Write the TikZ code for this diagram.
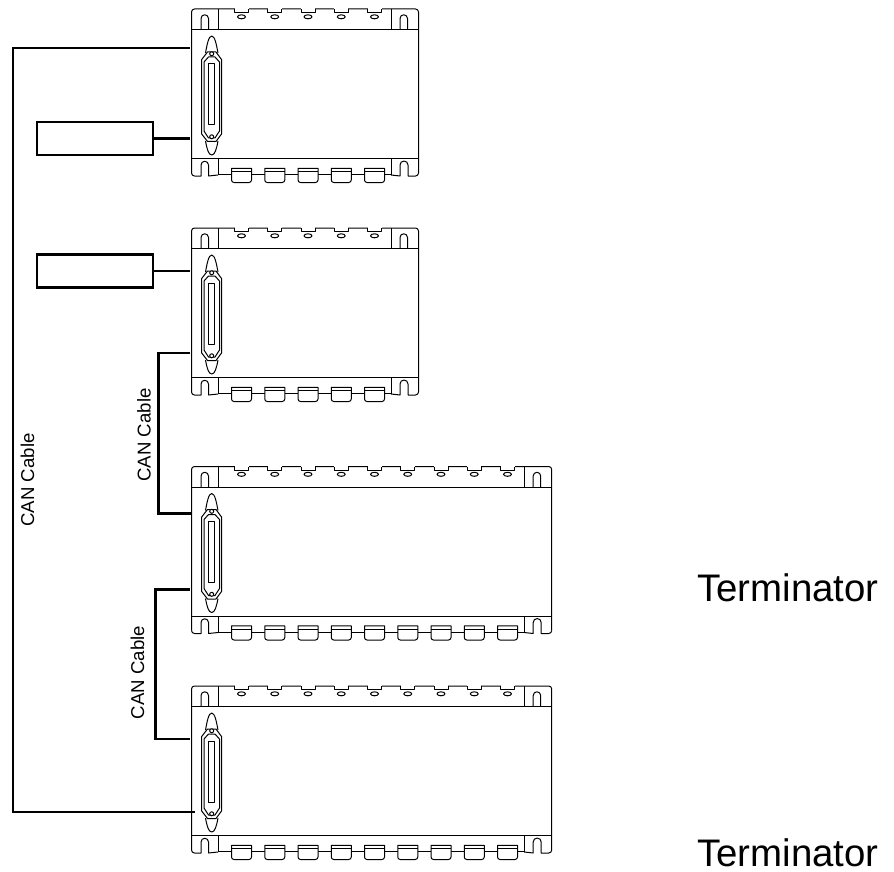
\documentclass[tikz,border=0pt]{standalone}
\usepackage{fontspec}
\setmainfont{Liberation Sans}
\usetikzlibrary{calc}
\tikzset{
  thin line/.style={line width=1pt,line join=round,black},
  cable/.style={line width=2.4pt,line join=miter,black},
  mbox/.style={draw,line width=2.4pt,minimum width=116pt,minimum height=33pt,inner sep=0pt,fill=white},
  canlabel/.style={font=\fontsize{18.6}{19}\selectfont,rotate=90,inner sep=0pt},
  termlabel/.style={font=\fontsize{38.4}{39}\selectfont,inner sep=0pt,anchor=west}
}
% #1 name, #2 top y, #3 number of tabs
\newcommand{\chassis}[3]{%
 \begin{scope}[shift={(191.5,#2)}]
  \pgfmathsetmacro{\W}{227+33.3*(#3-5)+0.0}
  \pgfmathsetmacro{\Il}{26.5}
  \pgfmathsetmacro{\Ir}{\W-27.5}
  % outline
  \draw[thin line] (0,164) -- (0,3) arc[start angle=180,end angle=270,radius=3] -- (\W-3,0) arc[start angle=270,end angle=360,radius=3] -- (\W,164);
  % header, footer
  \draw[thin line] (0,20.5) -- (\W,20.5);
  \draw[thin line] (0,149.5) -- (\W,149.5);
  \draw[thin line] (\Il,0) -- (\Il,20.5);
  \draw[thin line] (\Ir,0) -- (\Ir,20.5);
  \draw[thin line] (\Il,149.5) -- (\Il,166);
  \draw[thin line] (\Ir,149.5) -- (\Ir,166);
  % top slots
  \foreach \sx in {9.5,\W-18.5}{
    \draw[thin line] (\sx,20.5) -- (\sx,9.5) arc[start angle=180,end angle=360,radius=3.75] -- (\sx+7.5,20.5);
  }
  % bottom end parts
  \draw[thin line] (0,164) arc[start angle=180,end angle=90,radius=3] -- (9.5,167) -- (9.5,156) arc[start angle=180,end angle=360,radius=3.75] -- (17,167) -- (\Il,166);
  \draw[thin line] (\W,164) arc[start angle=0,end angle=90,radius=3] -- (\W-10.5,167) -- (\W-10.5,156) arc[start angle=0,end angle=-180,radius=4] -- (\W-18.5,167) -- (\Ir,166);
  % tabs
  \draw[thin line] (\Il,165.5) -- (\Ir,165.5);
  \foreach \i in {1,...,#3}{
    \pgfmathsetmacro{\cx}{50+33.25*(\i-1)}
    \fill[white] (\cx-7,-1) rectangle (\cx+7,3.2);
    \draw[thin line] (\cx-7,0) -- (\cx-7,3.7) -- (\cx+7,3.7) -- (\cx+7,0);
    \draw[thin line] (\cx,7.8) ellipse[x radius=4,y radius=2];
    \draw[thin line,fill=white] (\cx-10,159.3) -- (\cx+10,159.3) -- (\cx+10,171) arc[start angle=0,end angle=90,radius=2.5] -- (\cx-7.5,173.5) arc[start angle=90,end angle=180,radius=2.5] -- cycle;
    \draw[thin line] (\cx-10,162.7) -- (\cx+10,162.7);
  }
  % connector
  \draw[thin line] (14,44) .. controls (15.5,36) and (17,27) .. (20.2,27) .. controls (23.4,27) and (25,36) .. (26.5,44);
  \draw[thin line] (14,132) .. controls (15.5,140) and (17,146) .. (20.2,146) .. controls (23.4,146) and (25,140) .. (26.5,132);
  \draw[thin line,fill=white] (16,43) -- (24.5,43) -- (30,50.5) -- (30,125) -- (24.5,132.5) -- (16,132.5) -- (10.2,125) -- (10.2,50.5) -- cycle;
  \draw[thin line] (17,48) -- (23.5,48) -- (28,53) -- (28,122) -- (23.5,129) -- (17,129) -- (12.5,122) -- (12.5,53) -- cycle;
  \draw[thin line] (17.3,55) rectangle (23,116);
  \draw[thin line,fill=white] (20.2,44.8) circle[radius=2];
  \draw[thin line,fill=white] (20.2,127.8) circle[radius=2];
  \coordinate (#1) at (0,0);
 \end{scope}}
\begin{document}
\begin{tikzpicture}[x=1pt,y=-1pt]
\useasboundingbox (0,0) rectangle (894,872);
\chassis{chA}{9}{5}
\chassis{chB}{228}{5}
\chassis{chC}{466.5}{9}
\chassis{chD}{686}{9}
\node[mbox] (boxA) at (95,138.5) {};
\node[mbox] (boxB) at (95,271) {};
\coordinate (a1) at ($(chA)+(-2,39.2)$);
\coordinate (a2) at ($(chA)+(-2,129.5)$);
\coordinate (b1) at ($(chB)+(-1.5,43)$);
\coordinate (b2) at ($(chB)+(-2,125)$);
\coordinate (c1) at ($(chC)+(0.5,47)$);
\coordinate (c2) at ($(chC)+(-2,122.8)$);
\coordinate (d1) at ($(chD)+(-2,53)$);
\coordinate (d2) at ($(chD)+(3.5,125.7)$);
\draw[cable] (boxA.east) -- (a2);
\draw[cable] (boxB.east) -- (b1);
\draw[cable] (a1) -- (12.7,48.2) -- (12.7,811.7) -- (d2);
\draw[cable] (b2) -- (158.5,353) -- (158.5,513.5) -- (c1);
\draw[cable] (c2) -- (155.5,589.3) -- (155.5,739) -- (d1);
\node[canlabel] (l1) at (27.5,480) {CAN Cable};
\node[canlabel] (l2) at (144,435) {CAN Cable};
\node[canlabel] (l3) at (137.5,672.5) {CAN Cable};
\node[termlabel] (t1) at (697,588) {Terminator};
\node[termlabel] (t2) at (697,852.5) {Terminator};
\end{tikzpicture}
\end{document}
